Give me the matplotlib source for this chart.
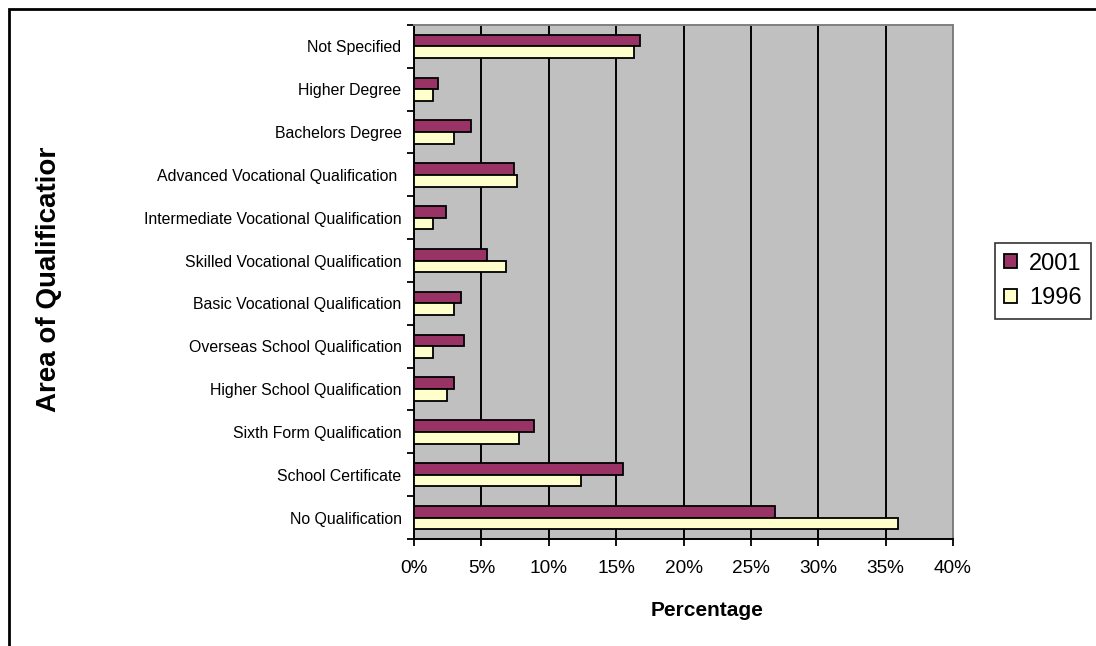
import numpy as np
import matplotlib.pyplot as plt
from matplotlib.patches import Rectangle
from matplotlib.transforms import Bbox

plt.rcParams['font.family'] = ['Liberation Sans', 'DejaVu Sans']

# Qualification categories, bottom to top
categories = [
    "No Qualification",
    "School Certificate",
    "Sixth Form Qualification",
    "Higher School Qualification",
    "Overseas School Qualification",
    "Basic Vocational Qualification",
    "Skilled Vocational Qualification",
    "Intermediate Vocational Qualification",
    "Advanced Vocational Qualification ",
    "Bachelors Degree",
    "Higher Degree",
    "Not Specified",
]

# Percentages for each census year
pct_2001 = [26.8, 15.5, 8.9, 3.0, 3.7, 3.5, 5.4, 2.35, 7.4, 4.2, 1.8, 16.8]
pct_1996 = [35.9, 12.4, 7.8, 2.45, 1.4, 3.0, 6.85, 1.4, 7.65, 3.0, 1.4, 16.3]

W, H = 1096, 646
fig = plt.figure(figsize=(W / 100, H / 100), dpi=100)

# outer chart border (runs off the right and bottom edges)
fig.patches.append(Rectangle((9 / W, -0.05), 1.2, 1 - 9 / H + 0.05,
                             transform=fig.transFigure, fill=False,
                             edgecolor='black', linewidth=2))

left, right, top, bottom = 414, 953, 25, 539
ax = fig.add_axes([left / W, 1 - bottom / H, (right - left) / W, (bottom - top) / H])
ax.set_facecolor('#C0C0C0')

y = np.arange(len(categories))
h = 0.273
ax.barh(y + h / 2, pct_2001, height=h, color='#993366', edgecolor='black',
        linewidth=1.3, label='2001', zorder=3)
ax.barh(y - h / 2, pct_1996, height=h, color='#FFFFCC', edgecolor='black',
        linewidth=1.3, label='1996', zorder=3)

ax.set_xlim(0, 40)
ax.set_ylim(-0.5, len(categories) - 0.5)

ax.set_xticks(np.arange(0, 41, 5))
ax.set_xticklabels([f"{v}%" for v in range(0, 41, 5)], fontsize=13.7)
ax.tick_params(axis='x', length=5, width=1.3, pad=10)
ax.grid(axis='x', color='black', linewidth=1.4, zorder=1)

ax.set_yticks(y)
ax.set_yticklabels(categories, fontsize=11.4)
ax.set_yticks(np.arange(-0.5, len(categories), 1), minor=True)
ax.tick_params(axis='y', which='major', length=0, pad=9)
ax.tick_params(axis='y', which='minor', length=5, width=1.3)

for s in ['left', 'bottom']:
    ax.spines[s].set_linewidth(1.4)
    ax.spines[s].set_color('black')
for s in ['top', 'right']:
    ax.spines[s].set_linewidth(1.4)
    ax.spines[s].set_color('#808080')

fig.text(707 / W, 1 - 611 / H, "Percentage", fontsize=15, fontweight='bold',
         ha='center', va='center')

# axis title is cut off at its top end
ylab = fig.text(49 / W, 1 - 276 / H, "Area of Qualification", fontsize=20,
                fontweight='bold', rotation=90, ha='center', va='center')
ylab.set_clip_box(Bbox.from_extents(0, 0, W, H - 148))

leg = ax.legend(loc='center left', bbox_to_anchor=(995 / W, 1 - 281 / H),
                bbox_transform=fig.transFigure, fontsize=17, frameon=True,
                fancybox=False, edgecolor='black', handlelength=0.55,
                handleheight=0.55, handletextpad=0.5, borderpad=0.4,
                labelspacing=0.55, borderaxespad=0)
leg.get_frame().set_linewidth(1.2)

fig.savefig("out.png", dpi=100)
